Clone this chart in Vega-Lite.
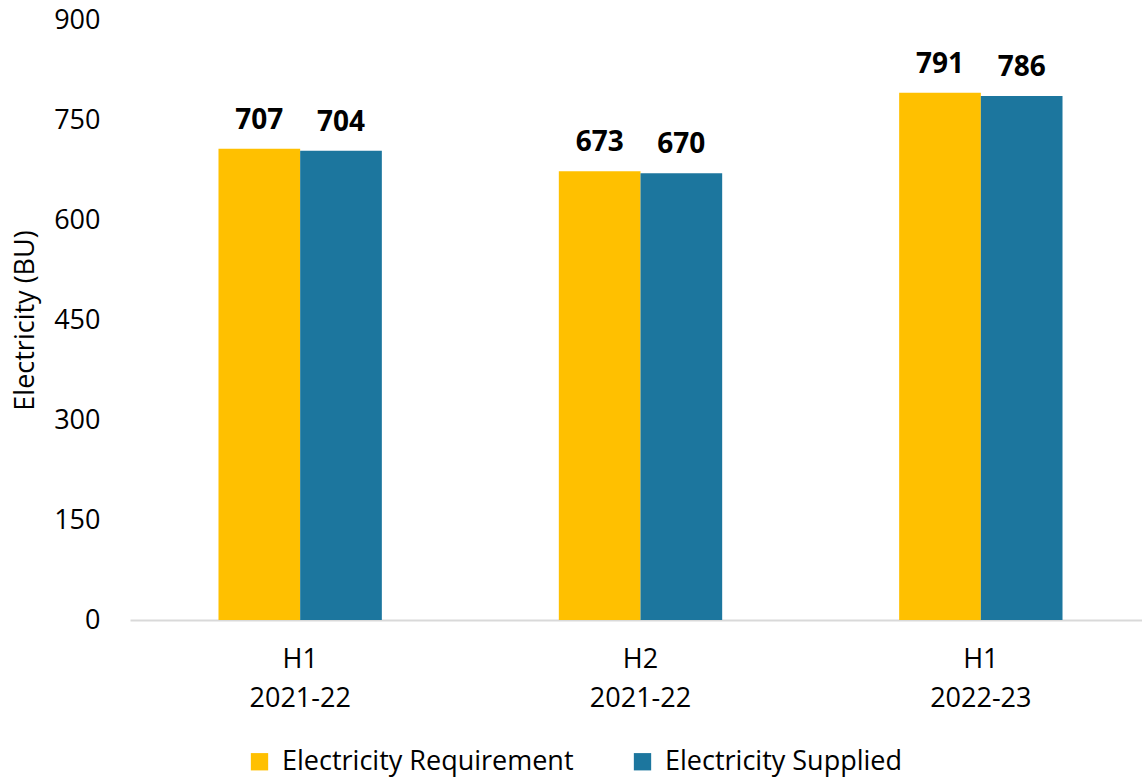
{
  "$schema": "https://vega.github.io/schema/vega-lite/v6.json",
  "autosize": {"type": "none"},
  "padding": {"left": 130, "top": 20, "right": 0, "bottom": 159},
  "width": 1012,
  "height": 600,
  "background": "white",
  "config": {
    "view": {"stroke": null},
    "font": "Open Sans"
  },
  "data": {
    "values": [
      {"period": "H1|2021-22", "series": "Electricity Requirement", "value": 707},
      {"period": "H1|2021-22", "series": "Electricity Supplied", "value": 704},
      {"period": "H2|2021-22", "series": "Electricity Requirement", "value": 673},
      {"period": "H2|2021-22", "series": "Electricity Supplied", "value": 670},
      {"period": "H1|2022-23", "series": "Electricity Requirement", "value": 791},
      {"period": "H1|2022-23", "series": "Electricity Supplied", "value": 786}
    ]
  },
  "encoding": {
    "x": {
      "field": "period",
      "type": "nominal",
      "sort": null,
      "scale": {"range": [0, 1021], "paddingInner": 0.52, "paddingOuter": 0.26},
      "axis": {
        "title": null,
        "labelAngle": 0,
        "labelExpr": "split(datum.label, '|')",
        "labelFontSize": 27,
        "labelLineHeight": 39,
        "labelColor": "#000000",
        "labelPadding": 26,
        "ticks": false,
        "domainColor": "#d9d9d9",
        "domainWidth": 2
      }
    },
    "xOffset": {"field": "series", "type": "nominal", "sort": null},
    "y": {
      "field": "value",
      "type": "quantitative",
      "scale": {"domain": [0, 900]},
      "axis": {
        "title": "Electricity (BU)",
        "titleFontSize": 27,
        "titleFontWeight": "normal",
        "titleColor": "#000000",
        "titlePadding": 14,
        "values": [0, 150, 300, 450, 600, 750, 900],
        "labelFontSize": 27,
        "labelColor": "#000000",
        "labelPadding": 30,
        "ticks": false,
        "domain": false,
        "grid": false
      }
    }
  },
  "layer": [
    {
      "mark": {"type": "bar"},
      "encoding": {
        "color": {
          "field": "series",
          "type": "nominal",
          "sort": null,
          "scale": {"range": ["#FFC000", "#1C769E"]},
          "legend": {
            "title": null,
            "orient": "none",
            "direction": "horizontal",
            "legendX": 116,
            "legendY": 728,
            "symbolType": "square",
            "symbolSize": 300,
            "symbolStrokeWidth": 0,
            "labelFontSize": 27,
            "labelColor": "#000000",
            "labelOffset": 9,
            "labelLimit": 500,
            "columnPadding": 55
          }
        }
      }
    },
    {
      "mark": {"type": "text", "fontWeight": "bold", "fontSize": 28, "dy": -20, "baseline": "alphabetic", "color": "#000000"},
      "encoding": {
        "text": {"field": "value", "type": "quantitative"}
      }
    }
  ]
}
